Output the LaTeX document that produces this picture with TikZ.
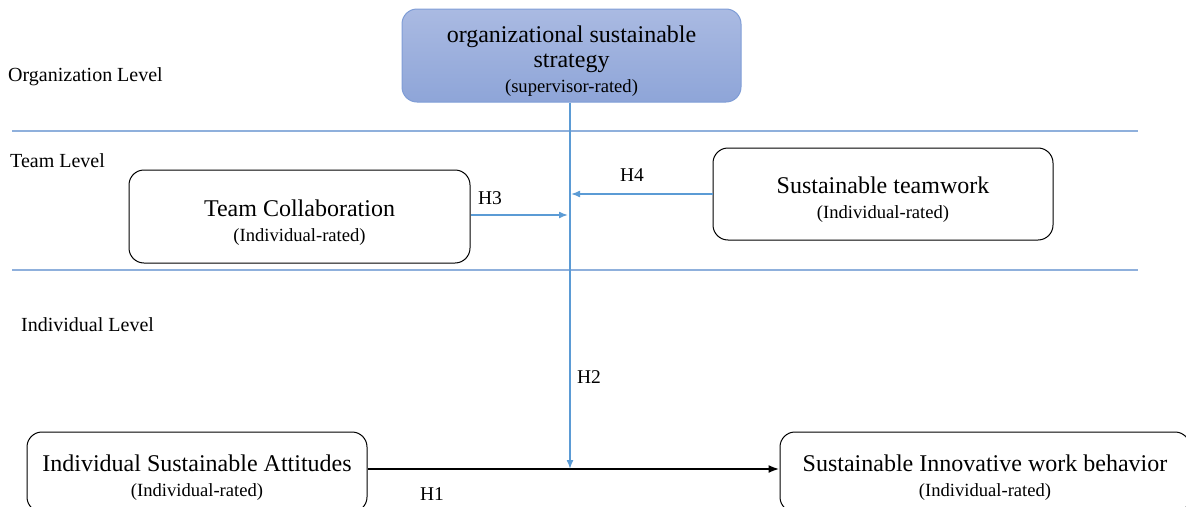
\documentclass[tikz,border=0pt]{standalone}
\usepackage{fontspec}
\setmainfont{Liberation Serif}
\usetikzlibrary{arrows.meta}
\definecolor{topfillA}{RGB}{170,186,226}
\definecolor{topfillB}{RGB}{142,165,216}
\definecolor{topedge}{RGB}{127,157,214}
\definecolor{linkblue}{RGB}{91,155,213}
\definecolor{levelline}{RGB}{143,176,220}
\newcommand{\boxsub}{\fontsize{18.6}{20}\selectfont}
\newcommand{\topstrut}{\rule{0pt}{28pt}}
\tikzset{
  varbox/.style={draw=black,line width=1pt,rounded corners=15pt,align=center,inner sep=0pt,
    font=\fontsize{24}{25}\selectfont},
  levelname/.style={anchor=west,inner sep=0pt,font=\fontsize{20}{22}\selectfont},
  hyplabel/.style={inner sep=0pt,font=\fontsize{19.5}{22}\selectfont},
  bluelink/.style={draw=linkblue,line width=1.5pt,-{Latex[length=9pt,width=7pt]}}
}
\begin{document}
\begin{tikzpicture}[x=1pt,y=-1pt]
                \useasboundingbox (0,0) rectangle (1186,506);
                % level separators
                \draw[levelline,line width=1.2pt] (12,131) -- (1138,131);
                \draw[levelline,line width=1.2pt] (12,270) -- (1138,270);
                \node[levelname] (orglevel) at (8,77) {Organization Level};
                \node[levelname] (teamlevel) at (10,161) {Team Level};
                \node[levelname] (indlevel) at (21,325) {Individual Level};
                % variables
                \node[varbox,draw=topedge,top color=topfillA,bottom color=topfillB,minimum width=339pt,minimum height=93pt] (strategy) at (571.5,55.5)
                    {\topstrut organizational sustainable\\strategy\\{\boxsub (supervisor-rated)}};
                \node[varbox,minimum width=341pt,minimum height=93pt] (collab) at (299.5,216.5)
                    {\topstrut Team Collaboration\\{\boxsub (Individual-rated)}};
                \node[varbox,minimum width=340pt,minimum height=92pt] (teamwork) at (883,194)
                    {\topstrut Sustainable teamwork\\{\boxsub (Individual-rated)}};
                \node[varbox,minimum width=340pt,minimum height=80pt] (attitudes) at (197,472)
                    {\topstrut Individual Sustainable Attitudes\\{\boxsub (Individual-rated)}};
                \node[varbox,minimum width=410pt,minimum height=80pt] (behavior) at (985,472)
                    {\topstrut Sustainable Innovative work behavior\\{\boxsub (Individual-rated)}};
                \coordinate (hub) at (570,469);
                % links
                \draw[line width=2pt,-{Latex[length=11pt,width=8pt]}] (attitudes.east |- hub) -- (behavior.west |- hub);
                \draw[bluelink] (strategy.south -| hub) -- (hub);
                \draw[bluelink,shorten >=2pt] (collab.east |- 0,215) -- (hub |- 0,215);
                \draw[bluelink,shorten >=1pt] (teamwork.west) -- (teamwork.west -| hub);
                \node[hyplabel] (h1) at (432,494) {H1};
                \node[hyplabel] (h2) at (589,377) {H2};
                \node[hyplabel] (h3) at (490,198) {H3};
                \node[hyplabel] (h4) at (632,175) {H4};
            \end{tikzpicture}
\end{document}
